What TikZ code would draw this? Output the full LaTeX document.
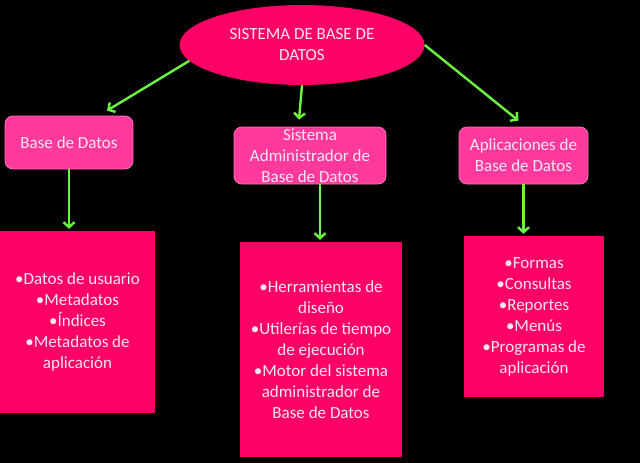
\documentclass[tikz,border=0pt]{standalone}
\usepackage{fontspec}
\setmainfont{Carlito}
\usetikzlibrary{shapes.geometric,arrows.meta,positioning,calc}
\definecolor{rosa}{HTML}{FF0066}
\definecolor{rosaclaro}{HTML}{FF3A9C}
\definecolor{borde}{HTML}{FF70B8}
\definecolor{texto}{HTML}{FFE8F3}
\definecolor{verde}{HTML}{6CF53F}
\newcommand{\ft}{\fontsize{17}{21}\selectfont}

\begin{document}
\begin{tikzpicture}[x=1pt,y=-1pt,
  font=\ft, text=texto,
  titulo/.style={ellipse,fill=rosa,minimum width=245pt,minimum height=80pt,inner sep=0pt,align=center},
  caja/.style={rectangle,rounded corners=8pt,fill=rosaclaro,draw=borde,line width=0.8pt,align=center,inner sep=0pt},
  lista/.style={rectangle,fill=rosa,align=center,inner sep=0pt},
  flecha/.style={color=verde,line width=2.4pt,-{Straight Barb[length=5pt,width=11pt]}}]
\fill[black] (0,0) rectangle (640,463);
\useasboundingbox (0,0) rectangle (640,463);
\node[titulo] (sys) at (302,45) {SISTEMA DE BASE DE\\DATOS};
%
\node[caja,minimum width=128pt,minimum height=53pt] (bd)   at (69,142.5)  {Base de Datos};
\node[caja,minimum width=152pt,minimum height=57pt] (sgbd) at (310,155.5) {Sistema\\Administrador de\\Base de Datos};
\node[caja,minimum width=129pt,minimum height=57pt] (apl)  at (523.5,155.5) {Aplicaciones de\\Base de Datos};
%
\node[lista,minimum width=155pt,minimum height=182pt] (dat)  at (77.5,322)  {•Datos de usuario\\•Metadatos\\•Índices\\•Metadatos de\\aplicación};
\node[lista,minimum width=162pt,minimum height=215pt] (herr) at (321,349.5) {•Herramientas de\\diseño\\•Utilerías de tiempo\\de ejecución\\•Motor del sistema\\administrador de\\Base de Datos};
\node[lista,minimum width=140pt,minimum height=161pt] (form) at (534,316.5) {•Formas\\•Consultas\\•Reportes\\•Menús\\•Programas de\\aplicación};
%
\path[flecha]
	(sys.188)                  edge ($(bd.north)+(38,-5)$)
	(sys.south)                edge ($(sgbd.north)+(-11,-7)$)
	(sys.east)                 edge ($(apl.north)+(-5,-6)$)
	(bd.south)                 edge ($(bd.south |- dat.north)+(0,-2)$)
	($(sgbd.south)+(10,0)$)    edge ($(herr.north)+(-1,-2)$)
	(apl.south)                edge ($(apl.south |- form.north)+(0,-2)$)
; %-flechas-%
\end{tikzpicture}
\end{document}
